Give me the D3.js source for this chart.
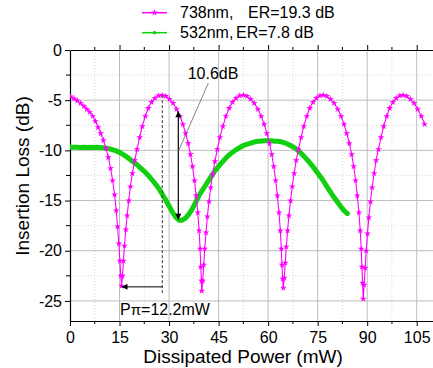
<!DOCTYPE html>
<html>
<head>
<meta charset="utf-8">
<script src="https://cdn.jsdelivr.net/npm/d3@7"></script>
<style>
  body { margin: 0; background: #fff; }
  svg { display: block; font-family: "Liberation Sans", Arial, sans-serif; }
</style>
</head>
<body>
<div id="chart"></div>
<script>
// 738nm trace (magenta)
var magPower = [0.2,1.2,2.2,3.2,4.2,5.1,6.0,6.9,7.7,8.5,9.3,10.1,10.9,11.6,12.3,12.9,13.5,14.0,14.4,14.8,15.1,15.4,15.6,
  15.9,16.2,16.5,16.9,17.3,17.8,18.3,18.9,19.6,20.3,21.1,21.9,22.8,23.7,24.7,25.7,26.8,27.9,
  29.0,30.1,31.2,32.3,33.3,34.2,35.0,35.8,36.5,37.1,37.7,38.2,38.7,39.1,39.4,39.6,39.8,39.9,
  40.2,40.5,40.8,41.2,41.6,42.1,42.6,43.2,43.9,44.6,45.4,46.3,47.2,48.2,49.2,50.3,51.4,52.5,
  53.6,54.7,55.8,56.9,57.9,58.8,59.6,60.4,61.1,61.7,62.3,62.8,63.3,63.7,64.0,64.2,64.4,64.6,
  64.9,65.2,65.5,65.9,66.3,66.8,67.3,67.9,68.5,69.2,70.0,70.8,71.7,72.6,73.6,74.6,75.7,76.7,
  77.8,78.9,80.0,81.1,82.1,83.0,83.8,84.6,85.3,85.9,86.5,87.0,87.5,87.9,88.2,88.4,88.6,88.8,
  89.1,89.4,89.7,90.1,90.5,91.0,91.5,92.1,92.7,93.4,94.2,95.0,95.9,96.8,97.8,98.8,99.9,100.9,
  102.0,103.1,104.2,105.3,106.4,107.4];
var magLoss = [-4.65,-4.85,-5.05,-5.3,-5.6,-5.9,-6.2,-6.6,-7.1,-7.7,-8.3,-9.0,-9.8,-10.7,-11.8,-13.0,-14.4,-16.0,-17.6,-19.3,-21.0,-22.5,-23.5,
  -22.5,-21.0,-19.5,-17.9,-16.5,-15.0,-13.6,-12.3,-11.0,-9.9,-8.7,-7.6,-6.6,-5.8,-5.2,-4.8,-4.55,-4.5,
  -4.6,-4.9,-5.3,-5.9,-6.6,-7.4,-8.3,-9.3,-10.4,-11.6,-13.0,-14.5,-16.2,-18.0,-19.8,-21.6,-23.0,-24.0,
  -23.0,-21.4,-19.8,-18.2,-16.6,-15.1,-13.7,-12.4,-11.1,-9.9,-8.7,-7.6,-6.6,-5.8,-5.2,-4.8,-4.55,-4.5,
  -4.6,-4.9,-5.3,-5.9,-6.6,-7.4,-8.3,-9.3,-10.4,-11.6,-13.0,-14.5,-16.2,-18.0,-19.8,-21.4,-22.8,-23.7,
  -22.7,-21.2,-19.6,-18.0,-16.5,-15.0,-13.6,-12.3,-11.0,-9.9,-8.7,-7.6,-6.6,-5.8,-5.2,-4.8,-4.55,-4.5,
  -4.6,-4.9,-5.3,-5.9,-6.6,-7.4,-8.3,-9.3,-10.4,-11.6,-13.0,-14.5,-16.2,-18.0,-19.8,-21.6,-23.2,-24.8,
  -23.4,-21.7,-20.0,-18.3,-16.7,-15.1,-13.7,-12.3,-11.0,-9.9,-8.7,-7.6,-6.6,-5.8,-5.2,-4.8,-4.55,-4.5,
  -4.6,-4.9,-5.3,-5.9,-6.6,-7.4];

// 532nm trace (green)
var greenPower = [0,1,2,3,4,5,6,7,8,9,10,11,12,13,14,15,16,17,18,19,20,21,22,23,24,25,26,27,28,29,30,31,32,33,34,35,36,37,38,39,40,
  41,42,43,44,45,46,47,48,49,50,51,52,53,54,55,56,57,58,59,60,61,62,63,64,65,66,67,68,69,70,71,72,73,74,75,76,77,78,79,80,81,82,83,84];
var greenLoss = [-9.65,-9.7,-9.68,-9.72,-9.7,-9.72,-9.7,-9.72,-9.7,-9.72,-9.75,-9.78,-9.85,-9.95,-10.05,-10.2,-10.4,-10.6,-10.85,-11.1,
  -11.35,-11.65,-11.95,-12.25,-12.6,-13.0,-13.4,-13.85,-14.4,-14.95,-15.55,-16.15,-16.65,-16.95,-16.95,-16.75,-16.35,-15.85,-15.2,-14.55,-14.0,
  -13.5,-13.0,-12.5,-12.0,-11.6,-11.2,-10.85,-10.5,-10.25,-10.0,-9.8,-9.6,-9.45,-9.35,-9.25,-9.15,-9.1,-9.07,-9.05,-9.05,
  -9.05,-9.08,-9.1,-9.15,-9.25,-9.4,-9.55,-9.75,-10.0,-10.3,-10.65,-11.0,-11.4,-11.8,-12.25,-12.7,-13.2,-13.7,-14.2,-14.7,
  -15.15,-15.6,-16.0,-16.3];

var xTicks = [0, 15, 30, 45, 60, 75, 90, 105];
var xMinor = [7.5, 22.5, 37.5, 52.5, 67.5, 82.5, 97.5];
var yTicks = [0, -5, -10, -15, -20, -25];
var yMinor = [-2.5, -7.5, -12.5, -17.5, -22.5];
var legendNames = ["738nm,", "532nm,"];
var legendER = ["ER=19.3 dB", "ER=7.8 dB"];

// annotations, in data units
var piPeak = 27.95, piDip = 15.6, piLevel = -23.6, piBottom = -24.2, piTop = -4.5;
var erX = 32.8, erTop = -6.1, erBottom = -16.9;

var W = 433, H = 368;
var x = d3.scaleLinear().domain([0, 110]).range([70, 70 + 110 * 3.302]);
var y = d3.scaleLinear().domain([-27, 0]).range([321, 50]);

var svg = d3.select("#chart").append("svg").attr("width", W).attr("height", H);

var defs = svg.append("defs");
defs.append("clipPath").attr("id", "plot")
  .append("rect").attr("x", x(0)).attr("y", y(0)).attr("width", x(110) - x(0)).attr("height", y(-27) - y(0));
defs.append("marker").attr("id", "arr").attr("viewBox", "0 0 10 10")
  .attr("refX", 10).attr("refY", 5).attr("markerWidth", 7).attr("markerHeight", 6)
  .attr("markerUnits", "userSpaceOnUse").attr("orient", "auto-start-reverse")
  .append("path").attr("d", "M0,0 L10,5 L0,10 z").attr("fill", "#000");

// grid
var grid = svg.append("g");
grid.selectAll(".gxm").data(xMinor).enter().append("line")
  .attr("x1", function(d){ return x(d); }).attr("x2", function(d){ return x(d); })
  .attr("y1", y(0)).attr("y2", y(-27))
  .attr("stroke", "#d8d8d8").attr("stroke-dasharray", "1,2");
grid.selectAll(".gym").data(yMinor).enter().append("line")
  .attr("x1", x(0)).attr("x2", x(110))
  .attr("y1", function(d){ return y(d); }).attr("y2", function(d){ return y(d); })
  .attr("stroke", "#d8d8d8").attr("stroke-dasharray", "1,2");
grid.selectAll(".gx").data(xTicks.slice(1)).enter().append("line")
  .attr("x1", function(d){ return x(d); }).attr("x2", function(d){ return x(d); })
  .attr("y1", y(0)).attr("y2", y(-27))
  .attr("stroke", "#bdbdbd");
grid.selectAll(".gy").data(yTicks.slice(1)).enter().append("line")
  .attr("x1", x(0)).attr("x2", x(110))
  .attr("y1", function(d){ return y(d); }).attr("y2", function(d){ return y(d); })
  .attr("stroke", "#bdbdbd");

// axes
var fmt = function(d){ return d < 0 ? "-" + Math.abs(d) : d; };
var xAxis = svg.append("g").attr("transform", "translate(0," + y(-27) + ")")
  .call(d3.axisBottom(x).tickValues(xTicks).tickSize(5).tickPadding(6).tickSizeOuter(0));
xAxis.append("g").selectAll("line").data(xMinor).enter().append("line")
  .attr("x1", function(d){ return x(d); }).attr("x2", function(d){ return x(d); })
  .attr("y1", 0).attr("y2", 3).attr("stroke", "#000");
var yAxis = svg.append("g").attr("transform", "translate(" + x(0) + ",0)")
  .call(d3.axisLeft(y).tickValues(yTicks).tickFormat(fmt).tickSize(5).tickPadding(3).tickSizeOuter(0));
yAxis.append("g").selectAll("line").data(yMinor).enter().append("line")
  .attr("x1", 0).attr("x2", -4)
  .attr("y1", function(d){ return y(d); }).attr("y2", function(d){ return y(d); })
  .attr("stroke", "#000");
var topAxis = svg.append("g").attr("transform", "translate(0," + y(0) + ")")
  .call(d3.axisTop(x).tickValues(xTicks.slice(1)).tickSize(5).tickFormat("").tickSizeOuter(0));
topAxis.append("g").selectAll("line").data(xMinor).enter().append("line")
  .attr("x1", function(d){ return x(d); }).attr("x2", function(d){ return x(d); })
  .attr("y1", 0).attr("y2", -3).attr("stroke", "#000");

[xAxis, yAxis, topAxis].forEach(function(a){
  a.select(".domain").attr("stroke", "#000").attr("stroke-width", 1.2);
  a.selectAll("text").attr("font-size", 16).attr("font-family", "Liberation Sans, Arial, sans-serif").attr("fill", "#000");
});

// series
var plot = svg.append("g").attr("clip-path", "url(#plot)");
var green = greenPower.map(function(p, i){ return [p, greenLoss[i]]; });
var mag = magPower.map(function(p, i){ return [p, magLoss[i]]; });
var line = d3.line().x(function(d){ return x(d[0]); }).y(function(d){ return y(d[1]); });

plot.append("path").datum(green).attr("d", line)
  .attr("fill", "none").attr("stroke", "#10d010").attr("stroke-width", 5)
  .attr("stroke-linejoin", "round").attr("stroke-linecap", "round");
plot.append("path").datum(mag).attr("d", line)
  .attr("fill", "none").attr("stroke", "#ff00ff").attr("stroke-width", 1.1);
var star = d3.symbol().type(d3.symbolStar).size(14);
plot.selectAll(".mk").data(mag).enter().append("path")
  .attr("d", star)
  .attr("transform", function(d){ return "translate(" + x(d[0]) + "," + y(d[1]) + ")"; })
  .attr("fill", "#ff00ff");

// annotations
var ann = svg.append("g");
ann.append("line")
  .attr("x1", x(piPeak)).attr("x2", x(piPeak)).attr("y1", y(piTop)).attr("y2", y(piBottom))
  .attr("stroke", "#333").attr("stroke-dasharray", "3,2");
ann.append("line")
  .attr("x1", x(piPeak)).attr("x2", x(piDip)).attr("y1", y(piLevel)).attr("y2", y(piLevel))
  .attr("stroke", "#000").attr("marker-end", "url(#arr)");
ann.append("line")
  .attr("x1", x(erX)).attr("x2", x(erX)).attr("y1", y(erBottom)).attr("y2", y(erTop))
  .attr("stroke", "#000").attr("stroke-width", 1.2)
  .attr("marker-start", "url(#arr)").attr("marker-end", "url(#arr)");
ann.append("line")
  .attr("x1", x(erX)).attr("y1", y(-10.1)).attr("x2", x(41.9)).attr("y2", y(-3.3))
  .attr("stroke", "#666").attr("stroke-width", 0.8);
ann.append("text").attr("x", 213).attr("y", 79).attr("text-anchor", "middle")
  .attr("font-size", 16).text("10.6dB");
var pt = ann.append("text").attr("x", 120).attr("y", 315).attr("font-size", 16);
pt.append("tspan").text("P");
pt.append("tspan").attr("font-size", 15).text("\u03c0");
pt.append("tspan").text("=12.2mW");

// axis titles
svg.append("text").attr("x", 243).attr("y", 363).attr("text-anchor", "middle")
  .attr("font-size", 19).text("Dissipated Power (mW)");
svg.append("text").attr("transform", "translate(29,176) rotate(-90)").attr("text-anchor", "middle")
  .attr("font-size", 19).text("Insertion Loss (dB)");

// legend
var leg = svg.append("g");
var legColors = ["#ff00ff", "#10d010"];
legendNames.forEach(function(name, i){
  var ly = 12.7 + i * 20;
  leg.append("line").attr("x1", 142).attr("x2", 167).attr("y1", ly).attr("y2", ly)
    .attr("stroke", legColors[i]).attr("stroke-width", 1.5);
  if (i == 0) {
    leg.append("path").attr("d", star).attr("transform", "translate(154.5," + ly + ")").attr("fill", legColors[i]);
  } else {
    leg.append("rect").attr("x", 153).attr("y", ly - 1.5).attr("width", 3).attr("height", 3).attr("fill", legColors[i]);
  }
  leg.append("text").attr("x", 180).attr("y", ly + 5.3).attr("font-size", 16).text(name);
  leg.append("text").attr("x", i == 0 ? 248 : 236).attr("y", ly + 5.3).attr("font-size", 16).text(legendER[i]);
});
</script>
</body>
</html>
